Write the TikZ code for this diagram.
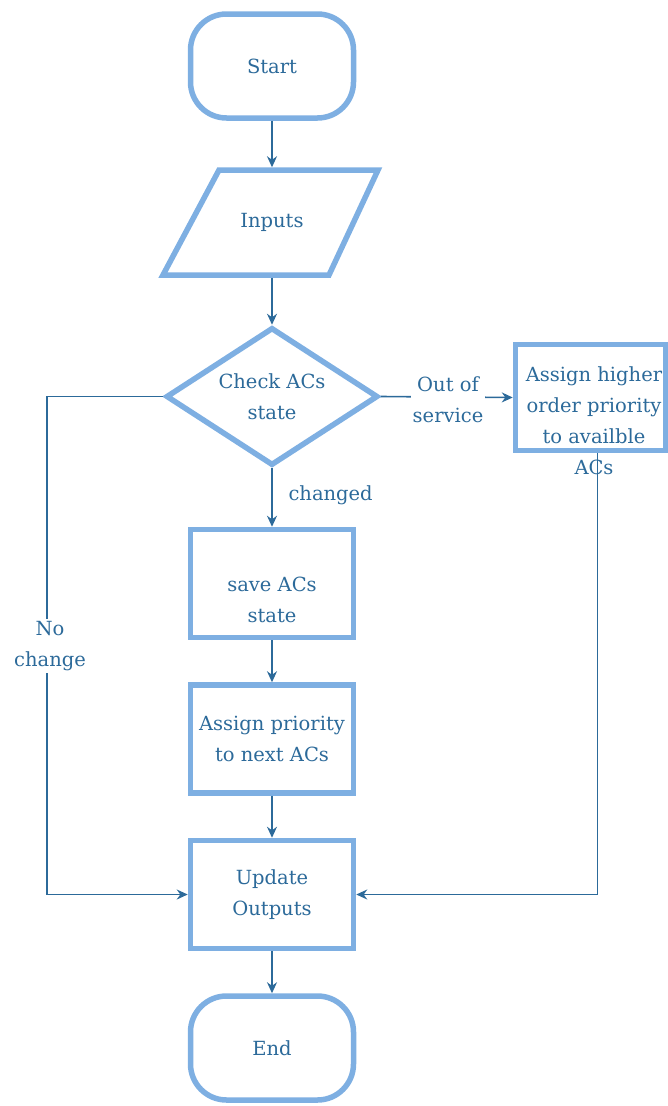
\documentclass[tikz,border=0pt]{standalone}
\usepackage{fontspec}
\setmainfont{DejaVu Serif}
\usetikzlibrary{arrows.meta,shapes.geometric}
\definecolor{boxblue}{HTML}{7EAFE2}
\definecolor{inkblue}{HTML}{2C6A9A}
\begin{document}
\begin{tikzpicture}[x=1pt,y=-1pt,
  every node/.style={font=\fontsize{19.5}{31}\selectfont, text=inkblue, align=center},
  shapebox/.style={draw=boxblue, line width=5.5pt, fill=white, inner sep=0pt},
  stepbox/.style={shapebox, rectangle, minimum width=163pt, minimum height=108pt},
  terminal/.style={shapebox, rectangle, rounded corners=36pt, minimum width=163pt, minimum height=104pt},
  flow/.style={draw=inkblue, line width=1.6pt, -{Stealth[length=11pt,width=10pt]}},
  edgelabel/.style={fill=white, inner sep=2pt}]
\useasboundingbox (0,0) rectangle (668,1106);

% terminals and process steps
\node[terminal] (start) at (272,66) {Start};

\draw[draw=boxblue, line width=5.5pt, line join=miter, fill=white]
  (219,170) -- (378,170) -- (329,275) -- (163,275) -- cycle;
\node[rectangle, inner sep=0pt, outer sep=2.75pt, minimum width=160pt, minimum height=105pt] (inputs) at (272,222.5) {Inputs};

\node[shapebox, diamond, aspect=1.6, minimum width=212pt, minimum height=138pt] (check) at (272,396.5) {Check ACs\\state};

\node[shapebox, rectangle, minimum width=150pt, minimum height=106pt] (assignhigh) at (590.5,397.5) {};

\node[stepbox] (save) at (272,583.5) {};
\node (savetext) at (272,600) {save ACs\\state};

\node[stepbox] (assign) at (272,739) {Assign priority\\to next ACs};
\node[stepbox] (update) at (272,894.5) {Update\\Outputs};
\node[terminal] (end) at (272,1048) {End};

% main flow
\draw[flow] (start) -- (inputs);
\draw[flow] (inputs) -- (check);
\draw[flow] (check) -- (save);
\node[anchor=west] (changedlbl) at (285,495) {changed};
\draw[flow] (save) -- (assign);
\draw[flow] (assign) -- (update);
\draw[flow] (update) -- (end);

% no-change bypass on the left
\coordinate (nobend) at (47,396.5);
\draw[flow] (check.west) -- (nobend) |- (update.west);
\node[edgelabel] (nochange) at (50,646) {No\\change};

% out-of-service branch on the right
\draw[flow] (check.east) -- (assignhigh.west);
\node[edgelabel] (outlbl) at (448,400) {Out of\\service};
\coordinate (rdrop) at ([xshift=7pt]assignhigh.south);
\draw[flow] (rdrop) |- (update.east);
\node (assignhightext) at (594,421) {Assign higher\\order priority\\to availble\\ACs};
\end{tikzpicture}
\end{document}
